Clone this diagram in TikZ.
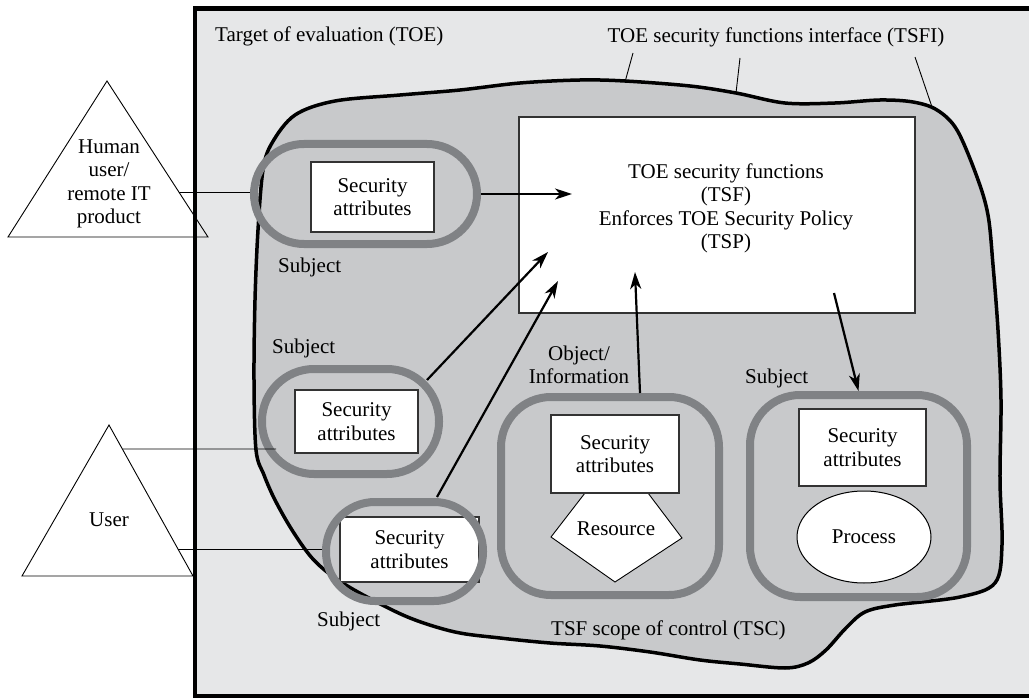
\documentclass[tikz,border=0pt]{standalone}
\usepackage{fontspec}
\setmainfont{Liberation Serif}
\usetikzlibrary{shapes.geometric, arrows.meta, positioning, calc}
\definecolor{toegray}{RGB}{230, 231, 232}
\definecolor{tscgray}{RGB}{200, 201, 203}
\definecolor{ringgray}{RGB}{128, 130, 133}

\begin{document}
\begin{tikzpicture}[x=1pt, y=-1pt,
        font=\fontsize{21}{23.5}\selectfont,
        attrbox/.style={rectangle, draw=black!80, fill=white, line width=1.3pt,
            align=center, inner sep=0pt},
        ring/.style={rectangle, draw=ringgray, line width=8pt, rounded corners=#1},
        ring/.default=50pt,
        note/.style={inner sep=0pt, align=center},
        arrow/.style={-{Stealth[length=17pt, width=11pt, inset=5pt]}, line width=2.2pt},
        link/.style={line width=0.9pt}
        ]
        \useasboundingbox (0,0) rectangle (1029,698);

        \draw[line width=4.5pt, fill=toegray] (195,8.5) rectangle (1080,696.5);
        \draw[line width=3.5pt, fill=tscgray] plot[smooth cycle, tension=0.55] coordinates {
            (256,450) (254,380) (255,300) (258,230) (263,170) (272,143) (295,115)
            (335,101) (400,95) (460,90) (520,83) (580,80) (625,81) (690,86) (736,93)
            (785,103) (835,103) (880,100) (913,102) (937,110) (957,130) (977,177)
            (988,215) (993,265) (998,330) (1001,400) (1000,480) (1002,545) (995,583)
            (960,597) (895,605) (865,612) (846,628) (826,650) (808,663) (785,668)
            (740,664) (700,660) (650,652) (600,646) (550,643) (500,638) (455,632)
            (410,618) (367,597) (335,578) (312,558) (292,530) (275,500) (264,475)};

        \node[note, anchor=base west] (toe) at (215,42) {Target of evaluation (TOE)};
        \node[note, anchor=base] (tsfi) at (776,43) {TOE security functions interface (TSFI)};
        \node[note, anchor=base west] (tsc) at (551,635) {TSF scope of control (TSC)};

        \coordinate (ifa) at (633,53);
        \coordinate (ifb) at (740,58);
        \coordinate (ifc) at (915,57);
        \draw[link] (ifa) -- (625,82);
        \draw[link] (ifb) -- (736,93);
        \draw[link] (ifc) -- (932,107);

        \node[attrbox, minimum width=396pt, minimum height=196pt, line width=1.4pt] (tsf) at (717,215) {};
        \node[note] (tsftext) at (726,208.5) {TOE security functions\\(TSF)\\Enforces TOE Security Policy\\(TSP)};
        \coordinate (in1) at (572,194);
        \coordinate (in2) at (548,252);
        \coordinate (in3) at (558,281);
        \coordinate (in4) at (635,272);
        \coordinate (out5) at (834,293);

        \node[attrbox, minimum width=123pt, minimum height=70pt] (attr1) at (372.5,197) {Security\\attributes};
        \node[ring, minimum width=223pt, minimum height=100pt] (subj1) at (365.5,194) {};
        \node[note, anchor=base west] (subjlbl1) at (278,272) {Subject};

        \node[attrbox, minimum width=123pt, minimum height=63pt] (attr2) at (356.5,421.5) {Security\\attributes};
        \node[ring=52pt, minimum width=177pt, minimum height=105pt] (subj2) at (350.5,421.5) {};
        \node[note, anchor=base west] (subjlbl2) at (272,353) {Subject};

        \node[attrbox, minimum width=139pt, minimum height=65pt] (attr3) at (409.5,549.5) {Security\\attributes};
        \node[ring=49pt, minimum width=157pt, minimum height=99pt] (subj3) at (404.5,551.5) {};
        \node[note, anchor=base west] (subjlbl3) at (317,626) {Subject};

        \draw[link, fill=white] (585,493) -- (648,493) -- (682,538) -- (615,582) -- (551,537) -- cycle;
        \node[note, anchor=base] (res) at (616,535) {Resource};
        \node[attrbox, minimum width=128pt, minimum height=78pt] (objattr) at (615,454) {Security\\attributes};
        \node[ring, minimum width=218pt, minimum height=198pt] (objring) at (610,496) {};
        \node[note] (objlbl) at (579,364.6) {Object/\\Information};

        \node[attrbox, minimum width=127pt, minimum height=77pt] (procattr) at (862.5,447.5) {Security\\attributes};
        \node[ellipse, draw, fill=white, line width=1pt, inner sep=0pt,
            minimum width=134pt, minimum height=92pt] (proc) at (864,537) {Process};
        \node[ring, minimum width=217pt, minimum height=202pt] (procring) at (858.5,496) {};
        \node[note, anchor=base west] (proclbl) at (745,383) {Subject};

        \draw[arrow] (subj1.east) -- (in1);
        \draw[arrow] ($(subj2.center)+(76.5,-41.5)$) -- (in2);
        \draw[arrow] ($(subj3.center)+(32.5,-54.5)$) -- (in3);
        \draw[arrow] ($(objring.north)+(30,0)$) -- (in4);
        \draw[arrow] (out5) -- (procring.north);

        \coordinate (hTop) at (107,81);
        \coordinate (hLeft) at (8,237);
        \coordinate (hRight) at (208,237);
        \draw[link] (hTop) -- (hRight) -- (hLeft) -- cycle;
        \node[note] (human) at (109,184) {Human\\user/\\remote IT\\product};
        \coordinate (hOut) at ($(hTop)!0.712!(hRight)$);
        \draw[link] (hOut) -- (hOut -| subj1.west);

        \coordinate (uTop) at (109,425);
        \coordinate (uLeft) at (22,576);
        \coordinate (uRight) at (193,576);
        \draw[link] (uTop) -- (uRight) -- (uLeft) -- cycle;
        \node[note, anchor=base] (user) at (109,526) {User};
        \coordinate (uOut1) at ($(uTop)!0.159!(uRight)$);
        \coordinate (uOut2) at ($(uTop)!0.821!(uRight)$);
        \coordinate (uIn1) at (276,449);
        \draw[link] (uOut1) -- (uIn1);
        \draw[link] (uOut2) -- (uOut2 -| subj3.west);
    \end{tikzpicture}
\end{document}
